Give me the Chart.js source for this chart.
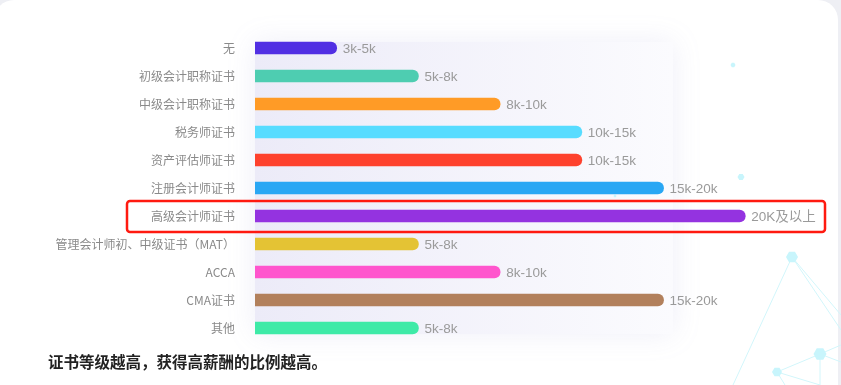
<!DOCTYPE html>
<html>
<head>
<meta charset="utf-8">
<script src="https://cdn.jsdelivr.net/npm/chart.js@4"></script>
<style>
  html, body { margin: 0; padding: 0; background: #eeeff4; }
  #card { position: absolute; left: -6px; top: 0; width: 844px; height: 400px; background: #fff; border-radius: 20px 20px 0 0; }
  #wrap { position: absolute; left: 0; top: 0; width: 841px; height: 385px; }
  #note { position: absolute; left: 48px; top: 350px; font: bold 15.5px "Noto Sans CJK SC", sans-serif; color: #222; letter-spacing: 0; }
</style>
</head>
<body>
<div id="card"></div>
<div id="wrap"><canvas id="bars" width="841" height="385"></canvas></div>
<div id="note">证书等级越高，获得高薪酬的比例越高。</div>
<script>
// 证书 -> 薪资档位
const certs = ["无", "初级会计职称证书", "中级会计职称证书", "税务师证书", "资产评估师证书", "注册会计师证书", "高级会计师证书", "管理会计师初、中级证书（MAT）", "ACCA", "CMA证书", "其他"];
const level = [1, 2, 3, 4, 4, 5, 6, 2, 3, 5, 2];
const salary = ["3k-5k", "5k-8k", "8k-10k", "10k-15k", "10k-15k", "15k-20k", "20K及以上", "5k-8k", "8k-10k", "15k-20k", "5k-8k"];
const colors = ["#512fe3", "#4ecdb1", "#ff9b26", "#57dcff", "#fe412d", "#29a7f4", "#9433e0", "#e4c334", "#ff55cd", "#b2805c", "#3eeaa7"];
const highlight = 6;

const font = '"Liberation Sans", "Noto Sans CJK SC", sans-serif';
const cjk = '"Noto Sans CJK SC", sans-serif';

// 背景：浅紫面板 + 右下角装饰
const backdrop = {
  id: "backdrop",
  beforeDatasetsDraw(chart) {
    const { ctx, chartArea } = chart;
    const y = chart.scales.y;
    const top = y.getPixelForValue(0) - 6;
    const bot = y.getPixelForValue(certs.length - 1) + 6;
    const left = chartArea.left, w = 418;
    ctx.save();
    ctx.shadowColor = "rgba(120,120,200,0.12)";
    ctx.shadowBlur = 26;
    const g = ctx.createLinearGradient(left, 0, left + w, 0);
    g.addColorStop(0, "#ecebf8");
    g.addColorStop(1, "#fbfbfe");
    ctx.fillStyle = g;
    ctx.fillRect(left, top, w, bot - top);
    ctx.restore();

    // 装饰网格
    ctx.save();
    ctx.strokeStyle = "#d2f6fb";
    ctx.lineWidth = 1;
    const seg = [[792, 257, 733, 385], [792, 257, 841, 330], [792, 257, 841, 315], [820, 354, 841, 345], [820, 354, 841, 362], [820, 354, 820, 385], [777, 372, 820, 385], [777, 372, 785, 385], [820, 354, 777, 372]];
    seg.forEach(s => { ctx.beginPath(); ctx.moveTo(s[0], s[1]); ctx.lineTo(s[2], s[3]); ctx.stroke(); });
    ctx.fillStyle = "#c8f5fc";
    [[792, 257, 6], [820, 354, 6.5], [777, 372, 5], [733, 65, 2.5], [741, 177, 3.5], [615, 196, 1.5]].forEach(n => {
      ctx.beginPath();
      for (let i = 0; i < 6; i++) {
        const a = Math.PI / 3 * i;
        const px = n[0] + n[2] * Math.cos(a), py = n[1] + n[2] * Math.sin(a);
        i ? ctx.lineTo(px, py) : ctx.moveTo(px, py);
      }
      ctx.closePath();
      ctx.fill();
    });
    ctx.restore();
  }
};

// 柱末端薪资标签 + 高亮框
const endLabels = {
  id: "endLabels",
  afterDatasetsDraw(chart) {
    const { ctx } = chart;
    const meta = chart.getDatasetMeta(0);
    ctx.save();
    ctx.font = "13.5px " + font;
    ctx.fillStyle = "#9a9a9a";
    ctx.textBaseline = "middle";
    meta.data.forEach((bar, i) => {
      ctx.fillText(salary[i], bar.x + 6, bar.y + 1);
    });
    const hb = meta.data[highlight];
    ctx.strokeStyle = "#ff1a10";
    ctx.lineWidth = 2.5;
    ctx.beginPath();
    ctx.roundRect(127, hb.y - 15, 698, 31, 3);
    ctx.stroke();
    ctx.restore();
  }
};

new Chart(document.getElementById("bars"), {
  type: "bar",
  data: {
    labels: certs,
    datasets: [{
      data: level,
      backgroundColor: colors,
      barThickness: 12,
      borderRadius: 6,
      borderSkipped: "start"
    }]
  },
  options: {
    indexAxis: "y",
    responsive: false,
    animation: false,
    layout: { padding: { left: 0, right: 14, top: 34, bottom: 43 } },
    plugins: { legend: { display: false }, tooltip: { enabled: false } },
    scales: {
      x: { display: false, min: 0, max: 7 },
      y: {
        grid: { display: false },
        border: { display: false },
        afterFit: (s) => { s.width = 255; },
        ticks: { padding: 12, color: "#8a8a8a", font: { size: 12, family: cjk } }
      }
    }
  },
  plugins: [backdrop, endLabels]
});
</script>
</body>
</html>
